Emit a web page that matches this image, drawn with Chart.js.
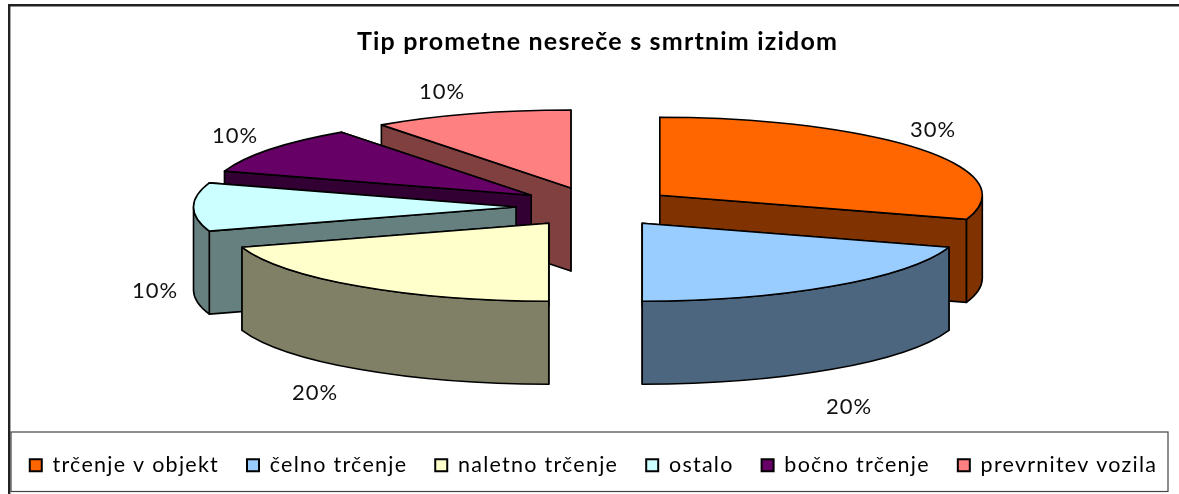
<!DOCTYPE html>
<html><head><meta charset="utf-8">
<style>html,body{margin:0;padding:0;background:#fff}canvas{display:block}</style>
<script src="https://cdn.jsdelivr.net/npm/chart.js@4"></script>
</head><body><canvas id="c" width="1179" height="494"></canvas>
<script>
const titleText = 'Tip prometne nesreče s smrtnim izidom';
const categories = ['trčenje v objekt','čelno trčenje','naletno trčenje','ostalo','bočno trčenje','prevrnitev vozila'];
const values = [30,20,20,10,10,10];
const percentLabels = ['30%','20%','20%','10%','10%','10%'];
const topColors = ['#FF6600','#99CCFF','#FFFFCC','#CCFFFF','#660066','#FF8080'];
const wallColors = ['#803300','#4D6680','#808066','#668080','#330033','#804040'];
const paintOrder = [5,4,3,2,0,1];
const labelCenters = [[933,130],[849,407],[315,393],[155,291],[235,136],[442,92]];
const pie = {cx:595.5, cy:207, rx:322.5, ry:78, depth:83, explodeX:79.5, explodeY:20};
const legendSpacing = '1.25px';
const titleSpacing = '1.2px';

const threeD = {
  id:'threeD',
  beforeLayout(chart){
    chart.ctx.letterSpacing = legendSpacing;
    const l = chart.legend;
    if(l && !l._oneRow){
      const f = l._fitRows;
      l._fitRows = function(...args){ const m=this.maxWidth; this.maxWidth=5000; const r=f.apply(this,args); this.maxWidth=m; return r; };
      l._oneRow = true;
    }
  },
  afterLayout(chart){
    const t = chart.titleBlock, c = chart.ctx;
    t.left += 4; t.right += 4;
    if(!t._wrapped){
      const d = t.draw;
      t.draw = function(){ c.letterSpacing=titleSpacing; d.apply(this,arguments); c.letterSpacing=legendSpacing; };
      t._wrapped = true;
    }
    const l = chart.legend;
    l.top -= 8; l.bottom -= 8;
    l.left -= 100; l.right += 100;
  },
  beforeDraw(chart){
    const c = chart.ctx;
    c.save();
    c.strokeStyle='#222'; c.lineWidth=2.4;
    c.beginPath(); c.moveTo(1179,5.2); c.lineTo(9.2,5.2); c.lineTo(9.2,494); c.stroke();
    c.strokeStyle='#444'; c.lineWidth=1.2;
    c.strokeRect(11,432,1157,59.5);
    c.restore();
    c.letterSpacing=legendSpacing;
  },
  beforeDatasetsDraw(chart){
    const c = chart.ctx;
    c.letterSpacing='0px';
    const arcs = chart.getDatasetMeta(0).data;
    c.save();
    c.lineJoin='round'; c.lineWidth=1.6; c.strokeStyle='#000';
    for(const i of paintOrder){
      const a = arcs[i];
      const s=a.startAngle, e=a.endAngle, m=(s+e)/2;
      const ax=pie.cx+Math.cos(m)*pie.explodeX, ay=pie.cy+Math.sin(m)*pie.explodeY;
      const P=t=>[ax+Math.cos(t)*pie.rx, ay+Math.sin(t)*pie.ry];
      const fillStroke=col=>{c.closePath();c.fillStyle=col;c.fill();c.stroke();};
      // radial walls, the one further back first
      for(const t of [s,e].sort((u,v)=>Math.sin(u)-Math.sin(v))){
        const p=P(t);
        c.beginPath();c.moveTo(ax,ay);c.lineTo(p[0],p[1]);c.lineTo(p[0],p[1]+pie.depth);c.lineTo(ax,ay+pie.depth);
        fillStroke(wallColors[i]);
      }
      // outer wall: only the part of the rim that faces the viewer
      const a0=Math.max(s,0), a1=Math.min(e,Math.PI);
      if(a1>a0){
        c.beginPath();
        c.ellipse(ax,ay,pie.rx,pie.ry,0,a0,a1);
        c.ellipse(ax,ay+pie.depth,pie.rx,pie.ry,0,a1,a0,true);
        fillStroke(wallColors[i]);
      }
      // top
      c.beginPath();c.moveTo(ax,ay);
      c.ellipse(ax,ay,pie.rx,pie.ry,0,s,e);
      fillStroke(topColors[i]);
    }
    c.restore();
    c.save();
    c.letterSpacing='1px';
    c.font='22px Lato'; c.fillStyle='#111'; c.textAlign='center'; c.textBaseline='middle';
    percentLabels.forEach((t,i)=>c.fillText(t,labelCenters[i][0],labelCenters[i][1]));
    c.restore();
    c.letterSpacing='0px';
    return false;
  }
};

new Chart(document.getElementById('c'),{
  type:'pie',
  data:{labels:categories,datasets:[{data:values,backgroundColor:topColors,borderColor:'#000',borderWidth:2}]},
  plugins:[threeD],
  options:{
    responsive:false,animation:false,devicePixelRatio:1,
    layout:{padding:{left:8}},
    plugins:{
      tooltip:{enabled:false},
      title:{display:true,text:titleText,color:'#000',font:{family:'Lato',size:25,weight:'bold'},padding:{top:27,bottom:10}},
      legend:{position:'bottom',labels:{boxWidth:12,boxHeight:12,padding:28,color:'#000',font:{family:'Lato',size:21.5}}}
    }
  }
});
</script></body></html>
